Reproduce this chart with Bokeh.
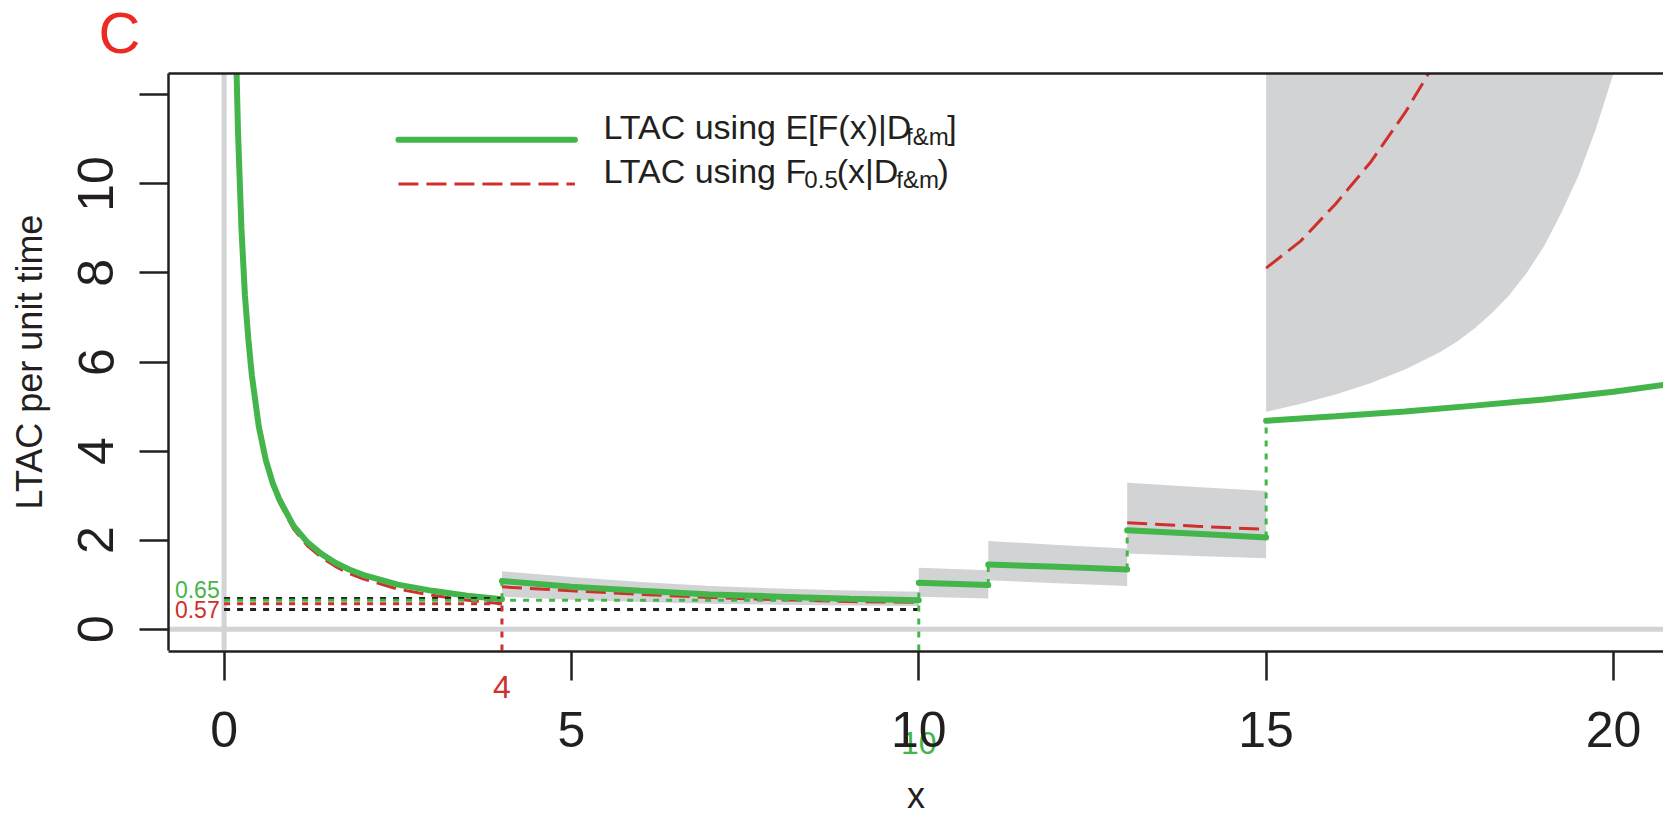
from bokeh.plotting import figure
from bokeh.models import Range1d, FixedTicker, LinearAxis, Label, Span, Title
from bokeh.embed import file_html
from bokeh.resources import INLINE

# ---------------- data ----------------
x_ticks = [0, 5, 10, 15, 20]
y_ticks = [0, 2, 4, 6, 8, 10, 12]
x_title = "x"
y_title = "LTAC per unit time"

# segment 1: 0 < x <= 4
seg1_x = [0.15, 0.18, 0.2, 0.25, 0.3, 0.35, 0.4, 0.5, 0.6, 0.7, 0.8, 1.0, 1.2, 1.4, 1.6, 1.8, 2.0, 2.5, 3.0, 3.5, 4.0]
seg1_green = [15.0, 12.5, 11.2, 9.0, 7.5, 6.5, 5.7, 4.55, 3.8, 3.28, 2.9, 2.32, 1.95, 1.69, 1.49, 1.34, 1.22, 1.0, 0.86, 0.75, 0.67]
seg1_red = [14.9, 12.4, 11.1, 8.9, 7.4, 6.4, 5.62, 4.48, 3.73, 3.21, 2.83, 2.25, 1.87, 1.61, 1.41, 1.25, 1.13, 0.90, 0.76, 0.65, 0.57]

# segment 2: 4 .. 10
seg2_x = [4, 5, 6, 7, 8, 9, 10]
seg2_green = [1.08, 0.95, 0.86, 0.78, 0.73, 0.68, 0.65]
seg2_red = [0.95, 0.86, 0.78, 0.71, 0.66, 0.62, 0.60]
seg2_upper = [1.30, 1.17, 1.06, 0.97, 0.91, 0.87, 0.84]
seg2_lower = [0.73, 0.66, 0.61, 0.57, 0.55, 0.53, 0.52]

# segment 3: 10 .. 11
seg3_x = [10, 11]
seg3_green = [1.04, 0.99]
seg3_red = [1.04, 0.99]
seg3_upper = [1.38, 1.32]
seg3_lower = [0.73, 0.69]

# segment 4: 11 .. 13
seg4_x = [11, 12, 13]
seg4_green = [1.45, 1.40, 1.34]
seg4_red = [1.45, 1.40, 1.34]
seg4_upper = [1.98, 1.89, 1.81]
seg4_lower = [1.10, 1.03, 0.97]

# segment 5: 13 .. 15
seg5_x = [13, 14, 15]
seg5_green = [2.22, 2.14, 2.06]
seg5_red = [2.39, 2.31, 2.24]
seg5_upper = [3.29, 3.19, 3.10]
seg5_lower = [1.70, 1.64, 1.59]

# segment 6: x >= 15
seg6_x = [15, 16, 17, 18, 19, 20, 20.8]
seg6_green = [4.68, 4.78, 4.89, 5.02, 5.16, 5.33, 5.50]
seg6_red_x = [15, 15.5, 16, 16.5, 17, 17.5, 18]
seg6_red = [8.11, 8.72, 9.55, 10.48, 11.6, 12.9, 14.4]
seg6_band_x = [15, 15.5, 16, 16.5, 17, 17.5, 17.75, 18, 18.25, 18.5, 18.75, 19, 19.25,
               19.5, 19.75, 20, 20.25, 20.5]
seg6_lower = [4.88, 5.06, 5.27, 5.52, 5.83, 6.22, 6.46, 6.75, 7.1, 7.5, 8.0, 8.6, 9.35,
              10.2, 11.25, 12.48, 13.9, 15.4]
seg6_upper = [13.0, 14.0, 15.2, 16.6, 18.2, 20.0, 21.0, 22.0, 23.2, 24.5, 25.7, 27.0, 28.5,
              30.0, 31.5, 33.0, 34.5, 36.0]

# dotted reference levels (horizontal, starting at x = 0)
ref_levels = [0.69, 0.65, 0.57, 0.44]
ref_ends = [4, 10, 4, 10]
ref_colors = ["black", "green", "red", "black"]

green_min_x, green_min_y = 10, 0.65
red_min_x, red_min_y = 4, 0.57

legend_labels = ["LTAC using E[F(x)|D", "LTAC using F"]

# ---------------- styling ----------------
GREEN = "#44B54A"
RED = "#D0302B"
RED_BRIGHT = "#EC2A22"
GREY = "#D2D3D5"
BLACK = "#231F20"
FONT = "Liberation Sans"
COL = {"black": BLACK, "green": GREEN, "red": RED}

W, H = 1663, 815
BL, BB, BT = 168, 165, 73
X0, X1 = -0.8, 20.72
Y0, Y1 = -0.48, 12.48

p = figure(width=W, height=H, output_backend="svg", toolbar_location=None,
           x_range=Range1d(X0, X1), y_range=Range1d(Y0, Y1),
           min_border_left=BL, min_border_right=0, min_border_top=BT,
           min_border_bottom=BB)
p.outline_line_color = None
p.grid.visible = False
p.background_fill_color = "white"
p.border_fill_color = "white"

xax = p.xaxis[0]
for ax in (xax, p.yaxis[0]):
    ax.axis_line_width = 2.5
    ax.axis_line_color = BLACK
    ax.major_tick_line_width = 2.5
    ax.major_tick_line_color = BLACK
    ax.major_tick_in = 0
    ax.major_tick_out = 29
    ax.minor_tick_line_color = None
    ax.major_label_text_font = FONT
    ax.major_label_text_font_size = "50px"
    ax.major_label_text_color = BLACK
    ax.axis_label_text_font = FONT
    ax.axis_label_text_font_style = "normal"
    ax.axis_label_text_font_size = "36px"
    ax.axis_label_text_color = BLACK

xax.ticker = FixedTicker(ticks=x_ticks)
xax.major_label_standoff = 31
p.yaxis[0].ticker = FixedTicker(ticks=y_ticks)
p.yaxis[0].major_label_overrides = {12: ""}
p.yaxis[0].major_label_orientation = "vertical"
p.yaxis[0].axis_label = y_title
p.yaxis[0].major_label_standoff = 26
p.yaxis[0].axis_label_standoff = 26

top = LinearAxis(ticker=FixedTicker(ticks=[]), axis_line_width=2.5, axis_line_color=BLACK,
                 major_tick_line_color=None, minor_tick_line_color=None,
                 axis_label=" ", axis_label_text_font_size="1px", axis_label_standoff=15)
p.add_layout(top, "above")

# texts below the x axis: (near) zero-height extra axes placed before the main
# x axis, their labels floating down into the main axis area
extra = []
for tx, txt, tcol, tsize, tstand, th in [
        (red_min_x, f"{red_min_x}", RED, "32px", 25, 32),
        (green_min_x, f"{green_min_x}", GREEN, "32px", 81, 32),
        ((X0 + X1) / 2, x_title, BLACK, "36px", 124, 47)]:
    ax = LinearAxis(ticker=FixedTicker(ticks=[tx]), major_label_overrides={tx: txt},
                    axis_line_color=None, major_tick_line_color=None,
                    minor_tick_line_color=None, major_tick_out=0, major_tick_in=0,
                    major_label_text_color=tcol, major_label_text_font=FONT,
                    major_label_text_font_size=tsize, major_label_standoff=tstand,
                    axis_label=" ", axis_label_text_font_size="1px",
                    axis_label_standoff=-(tstand + th))
    extra.append(ax)
p.below = extra + [xax]

# panel letter
p.add_layout(Title(text="C", align="left", offset=-70, standoff=-20, text_font=FONT,
                   text_font_size="58px", text_font_style="normal",
                   text_color=RED_BRIGHT), "above")

# grey zero lines
p.add_layout(Span(location=0, dimension="height", line_color=GREY, line_width=5, level="underlay"))
p.add_layout(Span(location=0, dimension="width", line_color=GREY, line_width=5, level="underlay"))

# bands
for bx, lo, up in [(seg2_x, seg2_lower, seg2_upper), (seg3_x, seg3_lower, seg3_upper),
                   (seg4_x, seg4_lower, seg4_upper), (seg5_x, seg5_lower, seg5_upper),
                   (seg6_band_x, seg6_lower, seg6_upper)]:
    p.varea(x=bx, y1=lo, y2=up, fill_color=GREY, fill_alpha=1.0)

# red dashed curves (median)
for rx, ry in [(seg1_x, seg1_red), (seg2_x, seg2_red), (seg3_x, seg3_red),
               (seg4_x, seg4_red), (seg5_x, seg5_red), (seg6_red_x, seg6_red)]:
    p.line(rx, ry, line_color=RED, line_width=3, line_dash="20 8")

# green curves (expectation)
for gx, gy in [(seg1_x, seg1_green), (seg2_x, seg2_green), (seg3_x, seg3_green),
               (seg4_x, seg4_green), (seg5_x, seg5_green), (seg6_x, seg6_green)]:
    p.line(gx, gy, line_color=GREEN, line_width=6, line_cap="round")

# dotted horizontal reference lines
for lev, end, c in zip(ref_levels, ref_ends, ref_colors):
    p.line([0, end], [lev, lev], line_color=COL[c], line_width=3, line_dash="6 7")

# dotted vertical lines
p.line([red_min_x, red_min_x], [Y0, red_min_y], line_color=RED, line_width=3, line_dash="6 7")
p.line([green_min_x, green_min_x], [Y0, seg3_green[0]], line_color=GREEN, line_width=3, line_dash="6 7")
jumps = [(seg1_x[-1], seg1_green[-1], seg2_green[0]),
         (seg4_x[0], seg3_green[-1], seg4_green[0]),
         (seg5_x[0], seg4_green[-1], seg5_green[0]),
         (seg6_x[0], seg5_green[-1], seg6_green[0])]
for jx, ya, yb in jumps:
    p.line([jx, jx], [ya, yb], line_color=GREEN, line_width=3, line_dash="6 7")

# annotation texts
def lab(x, y, text, size, color, align="left"):
    p.add_layout(Label(x=x, y=y, text=text, text_font=FONT, text_font_size=size,
                       text_color=color, text_align=align, text_baseline="alphabetic"))

PXX = (W - BL) / (X1 - X0)
PXY = (H - BT - BB) / (Y1 - Y0)

lab(-0.063, 0.90, f"{green_min_y:.2f}", "23px", GREEN, "right")
lab(-0.063, 0.43, f"{red_min_y:.2f}", "23px", RED, "right")

# legend (manual, with subscripts)
CW = {" ": 278, "L": 556, "T": 611, "A": 667, "C": 722, "u": 556, "s": 500, "i": 222,
      "n": 556, "g": 556, "E": 667, "[": 278, "F": 611, "(": 333, "x": 500, ")": 333,
      "|": 260, "D": 722, "]": 278, "f": 278, "&": 667, "m": 833, "0": 556, ".": 278, "5": 556}

def tw(s, size):
    return 0.967 * sum(CW.get(c, 556) for c in s) * size / 1000.0

BIG, SMALL = 34, 24
SUBDROP = 9 / PXY
leg_x = 5.46
line_rows = [
    ([(legend_labels[0], BIG, 0), ("f&m", SMALL, -SUBDROP), ("]", BIG, 0)], 11.27),
    ([(legend_labels[1], BIG, 0), ("0.5", SMALL, -SUBDROP), ("(x|D", BIG, 0),
      ("f&m", SMALL, -SUBDROP), (")", BIG, 0)], 10.30),
]
for pieces, base in line_rows:
    cum = 0.0
    for txt, sz, dy in pieces:
        lab(leg_x + cum / PXX, base + dy, txt, f"{sz}px", BLACK, "left")
        cum += tw(txt, sz)

p.line([2.51, 5.05], [10.99, 10.99], line_color=GREEN, line_width=6, line_cap="round")
p.line([2.51, 5.05], [10.0, 10.0], line_color=RED, line_width=3, line_dash="20 8")

open("out.html", "w").write(file_html(p, INLINE))
